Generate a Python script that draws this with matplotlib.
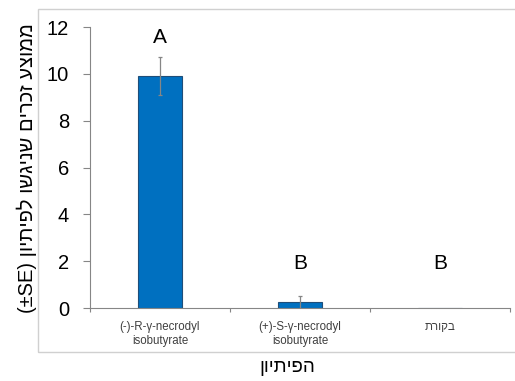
import matplotlib
matplotlib.use('Agg')
import matplotlib.pyplot as plt
from matplotlib.patches import Rectangle

plt.rcParams['font.family'] = ['Liberation Sans', 'DejaVu Sans']

# data
categories = ['(-)-R-\u03b3-necrodyl\nisobutyrate', '(+)-S-\u03b3-necrodyl\nisobutyrate', 'בקורת']
means = [9.9, 0.25, 0.0]
errors = [0.8, 0.28, 0.0]
letters = ['A', 'B', 'B']
letter_y = [11.55, 1.9, 1.9]
y_ticks = [0, 2, 4, 6, 8, 10, 12]

y_label_he = 'ממוצע זכרים שניגשו לפיתיון'
x_label_he = 'הפיתיון'

GRAY = '#868686'
BLUE = '#0070C0'


def visual(s):
    # matplotlib has no bidi support: flip hebrew into visual order
    return s[::-1]


def fix_label(s):
    if any('\u0590' <= ch <= '\u05ff' for ch in s):
        return visual(s)
    return s


fig = plt.figure(figsize=(5.15, 3.81), dpi=100)
fig.patch.set_facecolor('white')

# light frame around the chart area (runs off the right edge)
frame = Rectangle((38 / 515, 29 / 381), 1.0, 343 / 381, transform=fig.transFigure,
                  fill=False, ec='#d0d0d0', lw=1.0)
fig.patches.append(frame)

ax = fig.add_axes([90 / 515, 73 / 381, 420 / 515, 281 / 381])
xs = [1, 2, 3]
ax.bar(xs, means, width=0.32, color=BLUE, edgecolor='#1f4e79', lw=0.8, zorder=2)
ax.errorbar(xs[:2], means[:2], yerr=errors[:2], fmt='none', ecolor=GRAY,
            elinewidth=0.9, capsize=1.5, capthick=0.9, zorder=3)

for x, t, y in zip(xs, letters, letter_y):
    ax.text(x, y, t, ha='center', va='center', fontsize=15, color='black')

ax.set_xlim(0.5, 3.5)
ax.set_ylim(0, 12)
ax.set_yticks(y_ticks)
ax.tick_params(axis='y', direction='out', length=5, width=0.8, color=GRAY,
               labelsize=14.5, pad=10)

# category boundary ticks on the x axis, labels centred between them
ax.set_xticks([0.5, 1.5, 2.5, 3.5])
ax.set_xticklabels([])
ax.tick_params(axis='x', direction='out', length=3, width=0.8, color=GRAY)
for x, lab in zip(xs, categories):
    ax.text(x, -0.55, fix_label(lab), ha='center', va='top', fontsize=8.3,
            color='#404040', linespacing=1.2)

for side in ['top', 'right']:
    ax.spines[side].set_visible(False)
for side in ['left', 'bottom']:
    ax.spines[side].set_color(GRAY)
    ax.spines[side].set_linewidth(0.8)

fig.text(27 / 515, 1 - 168 / 381, '(\u00b1SE) ' + visual(y_label_he),
         rotation=90, ha='center', va='center', fontsize=14.5)
fig.text(287 / 515, 1 - 367 / 381, visual(x_label_he),
         ha='center', va='center', fontsize=13.5)

fig.savefig('out.png', dpi=100)
